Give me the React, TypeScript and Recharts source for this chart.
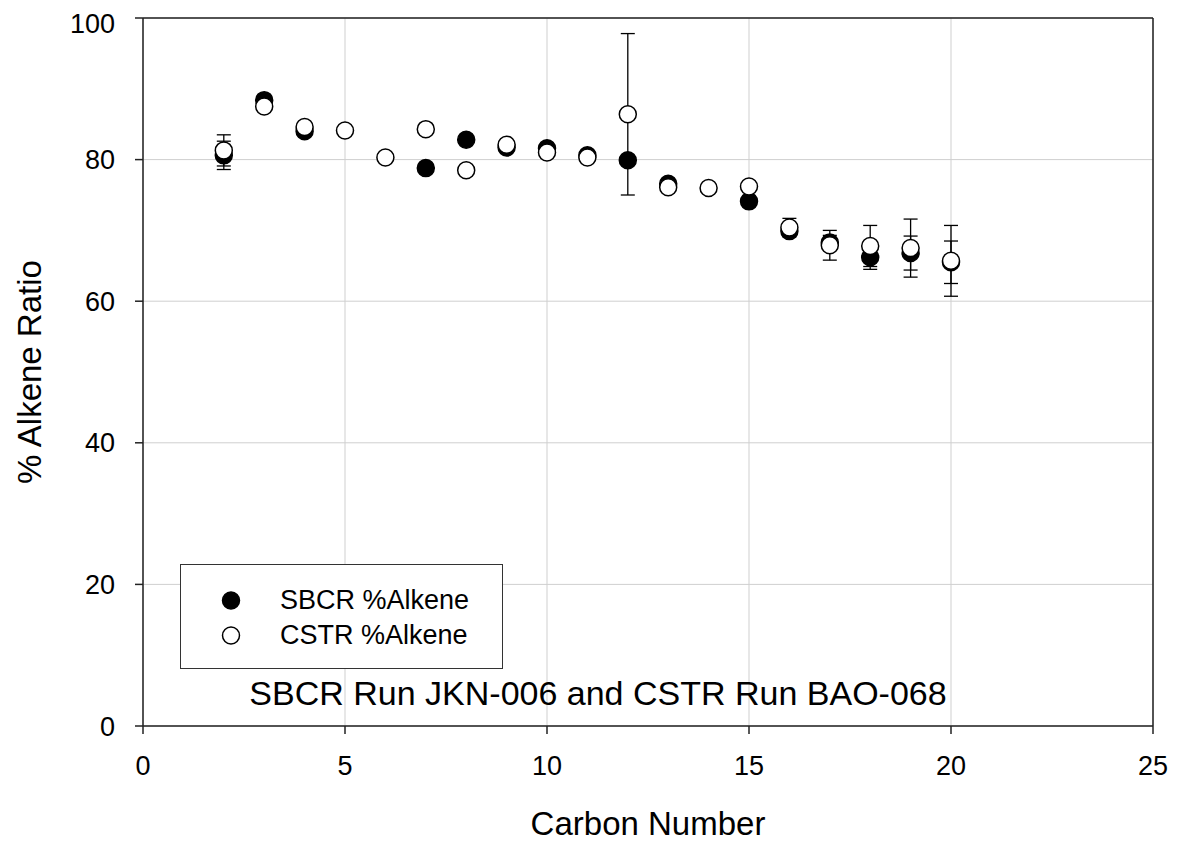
import {
  ScatterChart,
  Scatter,
  XAxis,
  YAxis,
  CartesianGrid,
  ErrorBar,
  ReferenceLine,
  Label,
} from "recharts";

// Carbon number on the x axis
const carbonNumbers = [2, 3, 4, 5, 6, 7, 8, 9, 10, 11, 12, 13, 14, 15, 16, 17, 18, 19, 20];

// % alkene ratio per series (null = no point)
const sbcrValues = [80.6, 88.4, 84.0, null, null, 78.8, 82.8, 81.7, 81.6, 80.6, 79.9, 76.6, null, 74.1, 69.9, 68.3, 66.2, 66.8, 65.5];
const sbcrErrors = [2.0, null, 0.6, null, null, null, null, null, null, null, null, null, null, null, 0.6, 1.0, 1.7, 2.4, 3.0];

const cstrValues = [81.3, 87.5, 84.6, 84.1, 80.3, 84.3, 78.5, 82.1, 81.0, 80.3, 86.4, 76.1, 76.0, 76.2, 70.4, 67.9, 67.8, 67.5, 65.7];
const cstrErrors = [2.2, null, null, null, null, null, null, null, null, null, 11.4, null, null, null, 1.3, 2.1, 2.9, 4.1, 5.0];

const xTicks = [0, 5, 10, 15, 20, 25];
const yTicks = [0, 20, 40, 60, 80, 100];

const seriesNames = ["SBCR %Alkene", "CSTR %Alkene"];
const annotation = "SBCR Run JKN-006 and CSTR Run BAO-068";

const FONT = "'Liberation Sans', Arial, sans-serif";

function buildSeries(values: (number | null)[], errors: (number | null)[]) {
  const out: { x: number; y: number; err: number | null }[] = [];
  carbonNumbers.forEach((c, i) => {
    const v = values[i];
    if (v == null) return;
    out.push({ x: c, y: v, err: errors[i] });
  });
  return out;
}

const sbcrData = buildSeries(sbcrValues, sbcrErrors);
const cstrData = buildSeries(cstrValues, cstrErrors);

const dot = (fill: string) => (props: any) => {
  const { cx, cy } = props;
  if (cx == null || cy == null) return <g />;
  return <circle cx={cx} cy={cy} r={8.5} fill={fill} stroke="#000" strokeWidth={1.5} />;
};

// legend drawn as an overlay so it doesn't eat into the plot area
function LegendBox() {
  const fills = ["#000", "#fff"];
  return (
    <div
      style={{
        position: "absolute",
        left: 172,
        top: 556,
        width: 323,
        height: 105,
        border: "1.5px solid #333",
        background: "#fff",
        boxSizing: "border-box",
        fontFamily: FONT,
        fontSize: 27,
        paddingTop: 18,
      }}
    >
      {seriesNames.map((name, i) => (
        <div key={name} style={{ display: "flex", alignItems: "center", height: 35 }}>
          <svg width={99} height={35}>
            <circle cx={50} cy={17.5} r={8.5} fill={fills[i]} stroke="#000" strokeWidth={1.5} />
          </svg>
          <span>{name}</span>
        </div>
      ))}
    </div>
  );
}

export default function App() {
  return (
    <div style={{ position: "relative", width: 1163, height: 837 }}>
      <ScatterChart
        width={1163}
        height={837}
        margin={{ top: 10, right: 18, bottom: 8, left: 0 }}
      >
        <CartesianGrid stroke="#cfcfcf" strokeWidth={1} />
        <XAxis
          type="number"
          dataKey="x"
          domain={[0, 25]}
          ticks={xTicks}
          height={111}
          tickSize={8}
          tickMargin={22}
          stroke="#222"
          strokeWidth={1.5}
          tick={{ fill: "#000", fontSize: 27, fontFamily: FONT }}
          allowDataOverflow
        >
          <Label
            value="Carbon Number"
            position="insideBottom"
            offset={2}
            style={{ fill: "#000", fontSize: 33, fontFamily: FONT }}
          />
        </XAxis>
        <YAxis
          type="number"
          dataKey="y"
          domain={[0, 100]}
          ticks={yTicks}
          width={135}
          tickSize={8}
          tickMargin={20}
          stroke="#222"
          strokeWidth={1.5}
          tick={{ fill: "#000", fontSize: 27, fontFamily: FONT }}
          allowDataOverflow
        >
          <Label
            value="% Alkene Ratio"
            angle={-90}
            position="insideLeft"
            offset={21}
            style={{ fill: "#000", fontSize: 33, fontFamily: FONT, textAnchor: "middle" }}
          />
        </YAxis>
        <ReferenceLine y={100} stroke="#222" strokeWidth={1.5} />
        <ReferenceLine x={25} stroke="#222" strokeWidth={1.5} />
        <Scatter
          name={seriesNames[0]}
          data={sbcrData}
          shape={dot("#000")}
          isAnimationActive={false}
        >
          <ErrorBar dataKey="err" direction="y" width={7} stroke="#000" strokeWidth={1.3} />
        </Scatter>
        <Scatter
          name={seriesNames[1]}
          data={cstrData}
          shape={dot("#fff")}
          isAnimationActive={false}
        >
          <ErrorBar dataKey="err" direction="y" width={7} stroke="#000" strokeWidth={1.3} />
        </Scatter>
      </ScatterChart>
      <LegendBox />
      <div
        style={{
          position: "absolute",
          left: 190,
          top: 668,
          width: 800,
          textAlign: "center",
          fontFamily: FONT,
          fontSize: 34,
          lineHeight: "34px",
          color: "#000",
          pointerEvents: "none",
        }}
      >
        {annotation}
      </div>
    </div>
  );
}
